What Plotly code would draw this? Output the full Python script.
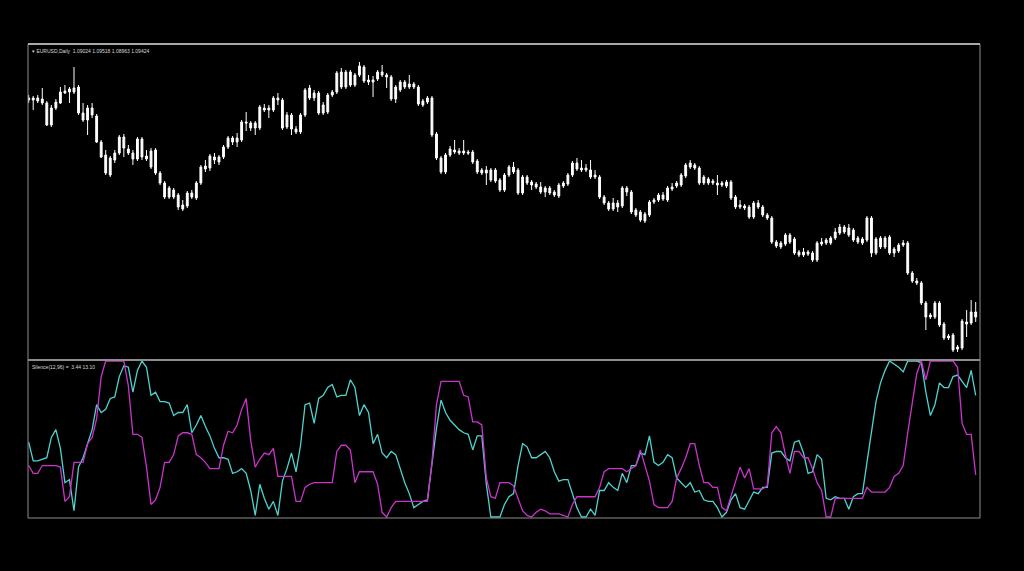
import plotly.graph_objects as go

# EURUSD daily bars, oldest first
bars = list(range(210))

opens = [
    1.1580, 1.1586, 1.1586, 1.1583, 1.1571, 1.1505, 1.1556, 1.1571, 1.1601, 1.1604,
    1.1604, 1.1619, 1.1541, 1.1520, 1.1556, 1.1532, 1.1454, 1.1415, 1.1355, 1.1400,
    1.1421, 1.1469, 1.1433, 1.1421, 1.1403, 1.1463, 1.1412, 1.1379, 1.1430, 1.1361,
    1.1331, 1.1289, 1.1310, 1.1295, 1.1253, 1.1262, 1.1301, 1.1286, 1.1331, 1.1373,
    1.1376, 1.1409, 1.1394, 1.1409, 1.1439, 1.1466, 1.1454, 1.1460, 1.1514, 1.1511,
    1.1496, 1.1496, 1.1556, 1.1550, 1.1550, 1.1586, 1.1580, 1.1499, 1.1535, 1.1493,
    1.1484, 1.1535, 1.1616, 1.1586, 1.1601, 1.1541, 1.1544, 1.1595, 1.1604, 1.1664,
    1.1619, 1.1664, 1.1625, 1.1655, 1.1679, 1.1640, 1.1634, 1.1643, 1.1664, 1.1655,
    1.1649, 1.1583, 1.1610, 1.1634, 1.1619, 1.1628, 1.1619, 1.1577, 1.1574, 1.1586,
    1.1478, 1.1406, 1.1364, 1.1415, 1.1430, 1.1427, 1.1421, 1.1424, 1.1424, 1.1397,
    1.1361, 1.1370, 1.1340, 1.1370, 1.1340, 1.1310, 1.1355, 1.1379, 1.1370, 1.1301,
    1.1349, 1.1334, 1.1328, 1.1319, 1.1304, 1.1316, 1.1304, 1.1292, 1.1322, 1.1328,
    1.1355, 1.1391, 1.1376, 1.1370, 1.1370, 1.1349, 1.1349, 1.1289, 1.1271, 1.1253,
    1.1271, 1.1262, 1.1316, 1.1304, 1.1250, 1.1244, 1.1217, 1.1235, 1.1274, 1.1280,
    1.1295, 1.1280, 1.1313, 1.1322, 1.1325, 1.1352, 1.1379, 1.1385, 1.1376, 1.1331,
    1.1343, 1.1337, 1.1331, 1.1325, 1.1322, 1.1334, 1.1289, 1.1265, 1.1262, 1.1259,
    1.1229, 1.1271, 1.1259, 1.1235, 1.1226, 1.1154, 1.1139, 1.1148, 1.1175, 1.1163,
    1.1124, 1.1115, 1.1124, 1.1121, 1.1100, 1.1148, 1.1151, 1.1151, 1.1166, 1.1181,
    1.1199, 1.1196, 1.1190, 1.1166, 1.1151, 1.1160, 1.1226, 1.1121, 1.1166, 1.1139,
    1.1169, 1.1121, 1.1127, 1.1145, 1.1151, 1.1061, 1.1037, 1.1031, 1.0971, 1.0929,
    1.0929, 1.0971, 1.0908, 1.0872, 1.0875, 1.0833, 1.0836, 1.0914, 1.0911, 1.0929,
]

highs = [
    1.1595, 1.1592, 1.1595, 1.1616, 1.1577, 1.1565, 1.1583, 1.1619, 1.1625, 1.1619,
    1.1679, 1.1625, 1.1571, 1.1565, 1.1571, 1.1538, 1.1460, 1.1430, 1.1412, 1.1430,
    1.1475, 1.1478, 1.1445, 1.1430, 1.1469, 1.1469, 1.1430, 1.1436, 1.1436, 1.1367,
    1.1337, 1.1322, 1.1316, 1.1301, 1.1280, 1.1307, 1.1310, 1.1337, 1.1385, 1.1400,
    1.1418, 1.1421, 1.1415, 1.1445, 1.1472, 1.1472, 1.1481, 1.1520, 1.1544, 1.1517,
    1.1517, 1.1565, 1.1568, 1.1565, 1.1592, 1.1601, 1.1586, 1.1544, 1.1541, 1.1502,
    1.1541, 1.1616, 1.1625, 1.1610, 1.1607, 1.1574, 1.1601, 1.1610, 1.1667, 1.1676,
    1.1670, 1.1670, 1.1661, 1.1694, 1.1685, 1.1655, 1.1652, 1.1670, 1.1685, 1.1661,
    1.1655, 1.1625, 1.1640, 1.1640, 1.1655, 1.1634, 1.1625, 1.1583, 1.1592, 1.1592,
    1.1484, 1.1412, 1.1421, 1.1442, 1.1460, 1.1436, 1.1460, 1.1430, 1.1430, 1.1403,
    1.1376, 1.1382, 1.1376, 1.1376, 1.1346, 1.1361, 1.1385, 1.1394, 1.1376, 1.1355,
    1.1355, 1.1340, 1.1334, 1.1334, 1.1322, 1.1322, 1.1310, 1.1331, 1.1337, 1.1361,
    1.1397, 1.1406, 1.1400, 1.1388, 1.1400, 1.1370, 1.1355, 1.1295, 1.1277, 1.1286,
    1.1280, 1.1322, 1.1322, 1.1310, 1.1256, 1.1250, 1.1244, 1.1280, 1.1286, 1.1301,
    1.1304, 1.1322, 1.1331, 1.1337, 1.1361, 1.1391, 1.1400, 1.1391, 1.1382, 1.1355,
    1.1349, 1.1343, 1.1355, 1.1337, 1.1340, 1.1340, 1.1295, 1.1280, 1.1268, 1.1265,
    1.1277, 1.1280, 1.1265, 1.1241, 1.1232, 1.1160, 1.1157, 1.1181, 1.1181, 1.1169,
    1.1130, 1.1136, 1.1130, 1.1127, 1.1157, 1.1166, 1.1166, 1.1172, 1.1196, 1.1208,
    1.1205, 1.1208, 1.1196, 1.1172, 1.1169, 1.1232, 1.1232, 1.1169, 1.1172, 1.1172,
    1.1175, 1.1139, 1.1151, 1.1160, 1.1157, 1.1067, 1.1046, 1.1037, 1.0977, 1.0941,
    1.0977, 1.0977, 1.0914, 1.0878, 1.0881, 1.0845, 1.0923, 1.0950, 1.0980, 1.0974,
]

lows = [
    1.1571, 1.1550, 1.1571, 1.1565, 1.1502, 1.1499, 1.1550, 1.1568, 1.1598, 1.1571,
    1.1598, 1.1535, 1.1514, 1.1475, 1.1526, 1.1451, 1.1406, 1.1355, 1.1349, 1.1391,
    1.1415, 1.1409, 1.1415, 1.1385, 1.1397, 1.1400, 1.1397, 1.1373, 1.1355, 1.1325,
    1.1283, 1.1283, 1.1283, 1.1250, 1.1247, 1.1256, 1.1283, 1.1280, 1.1325, 1.1364,
    1.1367, 1.1388, 1.1385, 1.1403, 1.1433, 1.1445, 1.1439, 1.1454, 1.1487, 1.1487,
    1.1475, 1.1490, 1.1544, 1.1526, 1.1544, 1.1565, 1.1490, 1.1493, 1.1475, 1.1478,
    1.1478, 1.1529, 1.1580, 1.1577, 1.1535, 1.1535, 1.1538, 1.1589, 1.1598, 1.1613,
    1.1613, 1.1619, 1.1619, 1.1649, 1.1631, 1.1625, 1.1589, 1.1637, 1.1649, 1.1616,
    1.1577, 1.1571, 1.1604, 1.1613, 1.1613, 1.1613, 1.1562, 1.1559, 1.1568, 1.1469,
    1.1400, 1.1358, 1.1358, 1.1409, 1.1418, 1.1415, 1.1415, 1.1415, 1.1388, 1.1358,
    1.1355, 1.1325, 1.1334, 1.1331, 1.1304, 1.1304, 1.1349, 1.1358, 1.1295, 1.1295,
    1.1325, 1.1310, 1.1313, 1.1298, 1.1289, 1.1295, 1.1289, 1.1286, 1.1316, 1.1322,
    1.1349, 1.1367, 1.1364, 1.1364, 1.1343, 1.1343, 1.1283, 1.1265, 1.1247, 1.1247,
    1.1244, 1.1256, 1.1292, 1.1238, 1.1229, 1.1214, 1.1211, 1.1229, 1.1268, 1.1274,
    1.1277, 1.1274, 1.1307, 1.1316, 1.1319, 1.1346, 1.1373, 1.1370, 1.1325, 1.1325,
    1.1325, 1.1325, 1.1295, 1.1319, 1.1316, 1.1280, 1.1253, 1.1253, 1.1250, 1.1223,
    1.1223, 1.1253, 1.1229, 1.1220, 1.1148, 1.1136, 1.1133, 1.1142, 1.1148, 1.1115,
    1.1109, 1.1109, 1.1112, 1.1094, 1.1094, 1.1142, 1.1145, 1.1145, 1.1160, 1.1175,
    1.1178, 1.1169, 1.1154, 1.1148, 1.1145, 1.1154, 1.1109, 1.1115, 1.1133, 1.1133,
    1.1115, 1.1109, 1.1121, 1.1139, 1.1055, 1.1031, 1.1025, 1.0965, 1.0890, 1.0923,
    1.0923, 1.0899, 1.0860, 1.0860, 1.0824, 1.0824, 1.0830, 1.0869, 1.0905, 1.0914,
]

closes = [
    1.1586, 1.1580, 1.1577, 1.1571, 1.1505, 1.1556, 1.1574, 1.1604, 1.1607, 1.1613,
    1.1616, 1.1541, 1.1520, 1.1556, 1.1535, 1.1454, 1.1409, 1.1361, 1.1406, 1.1421,
    1.1469, 1.1436, 1.1421, 1.1403, 1.1463, 1.1409, 1.1403, 1.1427, 1.1361, 1.1331,
    1.1289, 1.1316, 1.1289, 1.1259, 1.1265, 1.1301, 1.1289, 1.1331, 1.1379, 1.1382,
    1.1412, 1.1400, 1.1409, 1.1439, 1.1466, 1.1454, 1.1466, 1.1514, 1.1511, 1.1496,
    1.1511, 1.1559, 1.1550, 1.1556, 1.1586, 1.1580, 1.1496, 1.1535, 1.1493, 1.1484,
    1.1535, 1.1610, 1.1586, 1.1601, 1.1541, 1.1565, 1.1595, 1.1604, 1.1661, 1.1619,
    1.1664, 1.1625, 1.1655, 1.1682, 1.1637, 1.1634, 1.1640, 1.1664, 1.1655, 1.1649,
    1.1583, 1.1619, 1.1634, 1.1619, 1.1628, 1.1619, 1.1568, 1.1565, 1.1586, 1.1475,
    1.1406, 1.1364, 1.1415, 1.1433, 1.1424, 1.1421, 1.1427, 1.1421, 1.1394, 1.1364,
    1.1370, 1.1361, 1.1370, 1.1337, 1.1310, 1.1355, 1.1379, 1.1364, 1.1301, 1.1349,
    1.1331, 1.1325, 1.1319, 1.1304, 1.1316, 1.1301, 1.1295, 1.1325, 1.1331, 1.1355,
    1.1391, 1.1373, 1.1370, 1.1376, 1.1349, 1.1355, 1.1289, 1.1271, 1.1253, 1.1271,
    1.1259, 1.1316, 1.1304, 1.1244, 1.1235, 1.1220, 1.1238, 1.1274, 1.1280, 1.1295,
    1.1283, 1.1316, 1.1319, 1.1331, 1.1355, 1.1385, 1.1391, 1.1376, 1.1331, 1.1349,
    1.1331, 1.1331, 1.1325, 1.1331, 1.1334, 1.1286, 1.1259, 1.1259, 1.1256, 1.1229,
    1.1271, 1.1259, 1.1235, 1.1226, 1.1154, 1.1142, 1.1151, 1.1175, 1.1154, 1.1121,
    1.1115, 1.1124, 1.1118, 1.1100, 1.1151, 1.1154, 1.1160, 1.1166, 1.1184, 1.1199,
    1.1184, 1.1175, 1.1160, 1.1154, 1.1163, 1.1226, 1.1121, 1.1163, 1.1139, 1.1166,
    1.1121, 1.1133, 1.1145, 1.1151, 1.1061, 1.1037, 1.1031, 1.0971, 1.0929, 1.0935,
    1.0971, 1.0905, 1.0866, 1.0866, 1.0830, 1.0839, 1.0917, 1.0908, 1.0944, 1.0944,
]

# Silence(12,96) indicator, two buffers on a 0..100 scale
silence_aggr = [
    48, 36, 36, 37, 38, 51, 56, 44, 22, 24,
    4, 32, 38, 47, 56, 72, 67, 69, 76, 77,
    90, 97, 96, 80, 94, 100, 96, 78, 80, 74,
    74, 73, 65, 67, 67, 72, 54, 59, 65, 58,
    52, 44, 38, 38, 37, 28, 29, 31, 28, 17,
    1, 21, 12, 5, 10, 1, 23, 31, 41, 29,
    46, 72, 73, 60, 76, 78, 83, 85, 77, 78,
    78, 88, 83, 65, 72, 67, 47, 53, 41, 38,
    42, 40, 31, 22, 15, 6, 8, 10, 11, 33,
    57, 75, 67, 62, 59, 56, 54, 53, 43, 52,
    52, 21, 0, 0, 0, 8, 13, 15, 33, 47,
    45, 38, 38, 40, 42, 38, 29, 23, 24, 24,
    15, 6, 0, 0, 5, 1, 17, 17, 22, 19,
    17, 28, 22, 33, 33, 41, 40, 52, 35, 33,
    35, 40, 38, 25, 22, 19, 22, 16, 17, 11,
    10, 10, 6, 0, 3, 11, 15, 6, 5, 11,
    16, 15, 19, 19, 41, 42, 42, 38, 36, 48,
    49, 41, 28, 29, 40, 37, 12, 11, 13, 12,
    12, 5, 13, 15, 15, 35, 56, 74, 86, 94,
    100, 98, 96, 93, 100, 100, 100, 99, 80, 65,
    72, 86, 83, 83, 90, 91, 87, 83, 94, 78,
]

silence_vol = [
    33, 28, 28, 33, 33, 33, 33, 32, 10, 13,
    35, 35, 35, 47, 51, 63, 90, 100, 100, 100,
    100, 100, 84, 53, 53, 51, 32, 8, 11, 19,
    35, 35, 40, 52, 54, 54, 53, 40, 38, 35,
    31, 31, 31, 46, 55, 54, 59, 69, 76, 49,
    32, 37, 41, 40, 44, 26, 26, 26, 26, 10,
    10, 19, 21, 22, 22, 22, 22, 22, 42, 46,
    46, 43, 22, 29, 29, 29, 29, 21, 3, 0,
    6, 10, 10, 10, 10, 10, 10, 10, 10, 35,
    72, 87, 87, 87, 87, 87, 78, 77, 61, 61,
    59, 25, 13, 12, 22, 22, 22, 20, 12, 4,
    1, 0, 3, 5, 4, 2, 2, 2, 1, 0,
    8, 13, 13, 13, 13, 13, 19, 29, 31, 31,
    31, 31, 29, 31, 33, 43, 33, 23, 8, 6,
    6, 6, 10, 25, 31, 38, 47, 47, 33, 22,
    22, 19, 19, 6, 4, 13, 22, 32, 25, 31,
    18, 18, 18, 20, 54, 58, 54, 40, 28, 42,
    42, 38, 38, 31, 22, 17, 0, 0, 12, 12,
    12, 12, 12, 12, 12, 19, 16, 16, 16, 16,
    19, 26, 28, 33, 54, 74, 92, 100, 88, 100,
    100, 100, 100, 100, 100, 96, 60, 53, 53, 27,
]

header_text = "▾ EURUSD,Daily  1.09024 1.09518 1.08963 1.09424"
indicator_text = "Silence(12,96) =  3.44 13.10"

split = 0.3333  # share of the plot height used by the indicator window

fig = go.Figure()

candle_style = dict(line=dict(color="white", width=1), fillcolor="white")
fig.add_trace(go.Candlestick(
    x=bars, open=opens, high=highs, low=lows, close=closes,
    increasing=candle_style, decreasing=candle_style,
    whiskerwidth=0, xaxis="x", yaxis="y", hoverinfo="skip",
))

fig.add_trace(go.Scatter(
    x=bars, y=silence_aggr, mode="lines", xaxis="x", yaxis="y2",
    line=dict(color="#4fd3cf", width=1.3), hoverinfo="skip",
))
fig.add_trace(go.Scatter(
    x=bars, y=silence_vol, mode="lines", xaxis="x", yaxis="y2",
    line=dict(color="#cc33cc", width=1.3), hoverinfo="skip",
))

frame = "#8e8e8e"
fig.update_layout(
    width=1024, height=571,
    margin=dict(l=28, r=44, t=44, b=53),
    paper_bgcolor="black", plot_bgcolor="black",
    showlegend=False,
    boxgap=0.42,
    xaxis=dict(range=[-0.15, 209.95], visible=False,
               rangeslider=dict(visible=False), anchor="y2"),
    yaxis=dict(domain=[split, 1], range=[1.0800, 1.1748], visible=False),
    yaxis2=dict(domain=[0, split], range=[-0.64, 100.64], visible=False),
    shapes=[
        dict(type="rect", xref="paper", yref="paper", x0=0, x1=1, y0=0, y1=1,
             line=dict(color=frame, width=1)),
        dict(type="line", xref="paper", yref="paper", x0=0, x1=1, y0=1, y1=1,
             line=dict(color="#a8a8a8", width=2)),
        dict(type="line", xref="paper", yref="paper", x0=0, x1=1, y0=split, y1=split,
             line=dict(color=frame, width=2)),
    ],
    annotations=[
        dict(text=header_text, xref="paper", yref="paper", x=0.002, y=1,
             xanchor="left", yanchor="top", yshift=-2, showarrow=False,
             font=dict(family="Liberation Sans", size=5, color="#d8d8d8")),
        dict(text=indicator_text, xref="paper", yref="paper", x=0.002, y=split,
             xanchor="left", yanchor="top", yshift=-2, showarrow=False,
             font=dict(family="Liberation Sans", size=5, color="#d8d8d8")),
    ],
)

# drop the page's default body margin so the black figure fills the window
page_js = (
    "document.body.style.margin='0';"
    "document.body.style.background='black';"
    "document.documentElement.style.background='black';"
    "document.body.style.overflow='hidden';"
)
fig.write_html("out.html", post_script=page_js,
               config={"displayModeBar": False, "staticPlot": True})
